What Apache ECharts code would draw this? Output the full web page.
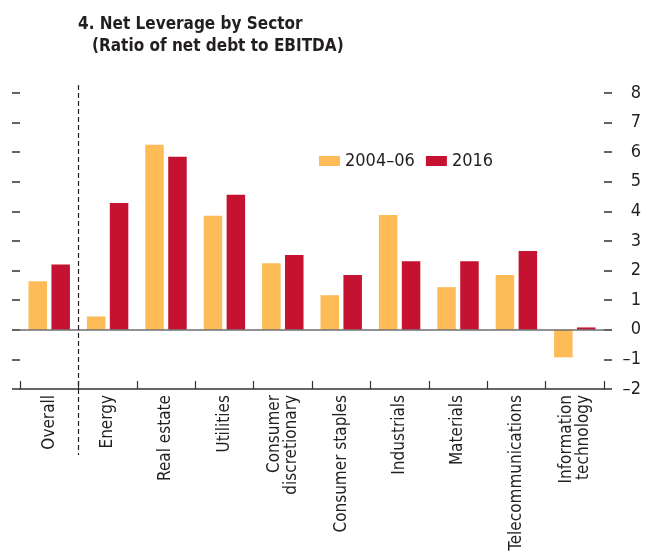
<!DOCTYPE html>
<html>
<head>
<meta charset="utf-8">
<script src="https://cdn.jsdelivr.net/npm/echarts@6/dist/echarts.min.js"></script>
<style>
  html, body { margin: 0; padding: 0; background: #fff; }
  #main { width: 654px; height: 556px; }
</style>
</head>
<body>
<div id="main"></div>
<script>
const FONT = "'Liberation Sans Narrow', 'DejaVu Sans Condensed', 'Liberation Sans', sans-serif";

const categories = [
  'Overall', 'Energy', 'Real estate', 'Utilities', 'Consumer\ndiscretionary',
  'Consumer staples', 'Industrials', 'Materials', 'Telecommunications', 'Information\ntechnology'
];
const period2004 = [1.64, 0.45, 6.25, 3.85, 2.25, 1.17, 3.88, 1.44, 1.85, -0.93];
const year2016 = [2.21, 4.28, 5.85, 4.56, 2.53, 1.85, 2.32, 2.32, 2.66, 0.08];
const seriesNames = ['2004\u201306', '2016'];
const yMin = -2, yMax = 8, yStep = 1;

const chart = echarts.init(document.getElementById('main'));

const fmtTick = v => v < 0 ? '\u2013' + (-v) : String(v);

const option = {
  animation: false,
  title: [
    {
      text: '4. Net Leverage by Sector',
      left: 73, top: 11,
      textStyle: { fontFamily: FONT, fontSize: 17, fontWeight: 'bold', color: '#231f20' }
    },
    {
      text: '(Ratio of net debt to EBITDA)',
      left: 87, top: 33,
      textStyle: { fontFamily: FONT, fontSize: 17, fontWeight: 'bold', color: '#231f20' }
    }
  ],
  legend: {
    data: seriesNames,
    left: 314, top: 147,
    itemWidth: 21, itemHeight: 10, itemGap: 11,
    icon: 'rect',
    textStyle: { fontFamily: FONT, fontSize: 18, color: '#231f20' }
  },
  grid: { left: 20, right: 50, top: 93, bottom: 167 },
  xAxis: {
    type: 'category',
    data: categories,
    axisLine: { onZero: false, lineStyle: { color: '#333', width: 1.5 } },
    axisTick: {
      show: true, inside: true, length: 8, interval: 0,
      lineStyle: { color: '#333', width: 1.2 }
    },
    axisLabel: {
      interval: 0, rotate: 90, margin: 6,
      fontFamily: FONT, fontSize: 17, lineHeight: 17, color: '#231f20'
    }
  },
  yAxis: [
    {
      type: 'value', position: 'left',
      min: yMin, max: yMax, interval: yStep,
      axisLine: { show: false },
      axisTick: { show: true, length: 8, lineStyle: { color: '#333', width: 1.5 } },
      axisLabel: { show: false },
      splitLine: { show: false }
    },
    {
      type: 'value', position: 'right',
      min: yMin, max: yMax, interval: yStep,
      axisLine: { show: false },
      axisTick: { show: true, length: 8, lineStyle: { color: '#333', width: 1.5 } },
      axisLabel: {
        align: 'right', margin: 37,
        fontFamily: FONT, fontSize: 18, color: '#231f20',
        formatter: fmtTick
      },
      splitLine: { show: false }
    }
  ],
  series: [
    {
      name: seriesNames[0],
      type: 'bar',
      yAxisIndex: 1,
      barWidth: 18.5,
      barGap: '24%',
      itemStyle: { color: '#fdbc57' },
      data: period2004
    },
    {
      name: seriesNames[1],
      type: 'bar',
      yAxisIndex: 1,
      barWidth: 18.5,
      itemStyle: { color: '#c41230' },
      data: year2016,
      markLine: {
        silent: true,
        symbol: 'none',
        label: { show: false },
        lineStyle: { color: 'rgba(110,110,110,0.75)', width: 2, type: 'solid' },
        data: [{ yAxis: 0 }]
      }
    }
  ]
};

chart.setOption(option);

// dashed divider between "Overall" and the sectors
const x0 = chart.convertToPixel({ xAxisIndex: 0 }, categories[0]);
const x1 = chart.convertToPixel({ xAxisIndex: 0 }, categories[1]);
const yTop = chart.convertToPixel({ yAxisIndex: 1 }, yMax);
const yBot = chart.convertToPixel({ yAxisIndex: 1 }, yMin);
const xd = Math.round((x0 + x1) / 2) + 0.5;
chart.setOption({
  graphic: [{
    type: 'line',
    silent: true,
    z: 100,
    shape: { x1: xd, y1: yTop - 8, x2: xd, y2: yBot + 66 },
    style: { stroke: '#222', lineWidth: 1.2, lineDash: [5, 3] }
  }]
});
</script>
</body>
</html>
